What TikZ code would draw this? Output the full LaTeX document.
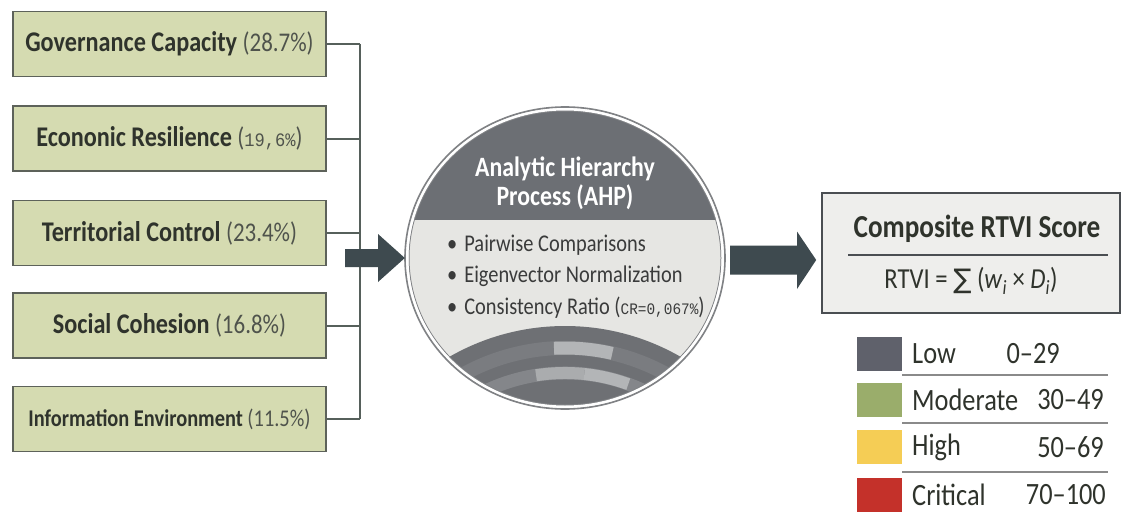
\documentclass[tikz,border=0pt]{standalone}
\usepackage{fontspec}
\setmainfont{Carlito}[FakeStretch=0.85]
\newfontfamily\monof{Liberation Mono}[FakeStretch=0.9]
\newfontfamily\symf{DejaVu Sans}
\usetikzlibrary{shapes.geometric,calc}
\definecolor{boxfill}{HTML}{D5DBB1}
\definecolor{boxline}{HTML}{5D625A}
\definecolor{txt}{HTML}{2F332C}
\definecolor{pct}{HTML}{4F534C}
\definecolor{conn}{HTML}{56605B}
\definecolor{arrowc}{HTML}{3E4A4F}
\definecolor{ahpdark}{HTML}{6C6F74}
\definecolor{ahplight}{HTML}{E6E6E3}
\definecolor{ahpbot}{HTML}{6E7074}
\definecolor{ahpband}{HTML}{7A7C80}
\definecolor{ahpbandb}{HTML}{84868A}
\definecolor{ahppatch}{HTML}{B3B5B7}
\definecolor{ahpring}{HTML}{808285}
\definecolor{bultxt}{HTML}{3A3B3B}
\definecolor{compfill}{HTML}{EEEEEC}
\definecolor{compline}{HTML}{4A4E52}
\definecolor{lowc}{HTML}{5F616B}
\definecolor{modc}{HTML}{9AAD6B}
\definecolor{highc}{HTML}{F5CD55}
\definecolor{critc}{HTML}{C4312A}
\definecolor{sepc}{HTML}{8A8A8A}
\newcommand\pc[1]{{\mdseries\fontsize{27}{29}\selectfont\color{pct}(#1)}}
\begin{document}
\begin{tikzpicture}[x=1pt,y=-1pt,
  dimbox/.style={draw=boxline, fill=boxfill, line width=1.8pt, minimum width=313pt,
    minimum height=65pt, inner sep=0pt, text=txt, font=\fontsize{28.5}{30}\selectfont\bfseries},
  connline/.style={draw=conn, line width=2pt},
  bigarrow/.style={fill=arrowc},
  bullet/.style={anchor=west, inner sep=0pt, text=bultxt, font=\fontsize{24}{26}\selectfont},
  swatch/.style={minimum width=45pt, minimum height=34pt, inner sep=0pt},
  leglabel/.style={anchor=west, inner sep=0pt, text=txt, font=\fontsize{31}{33}\selectfont},
  legrange/.style={anchor=east, inner sep=0pt, text=txt, font=\fontsize{31}{33}\selectfont},
  sepline/.style={draw=sepc, line width=1.2pt}]
\useasboundingbox (0,0) rectangle (1126,516);
\fill[white] (0,0) rectangle (1126,516);

% dimension boxes
\node[dimbox] (b1) at (169.5,44) {Governance Capacity \pc{28.7\%}};
\node[dimbox] (b2) at (169.5,138.5) {Econonic Resilience {\mdseries\fontsize{27}{29}\selectfont\color{pct}({\monof\fontsize{19}{20}\selectfont 19,6\%})}};
\node[dimbox] (b3) at (169.5,233) {Territorial Control \pc{23.4\%}};
\node[dimbox] (b4) at (169.5,325.5) {Social Cohesion \pc{16.8\%}};
\node[dimbox, font=\fontsize{24}{26}\selectfont\bfseries] (b5) at (169.5,419) {Information Environment {\mdseries\fontsize{24}{26}\selectfont\color{pct}(11.5\%)}};

% trunk
\coordinate (tk) at (360,0);
\foreach \b in {b1,b2,b3,b4,b5} \draw[connline] (\b.east) -- (\b.east -| tk);
\draw[connline] (b1.east -| tk) -- (b5.east -| tk);

% AHP circle
\node[ellipse, minimum width=320pt, minimum height=302pt, inner sep=0pt] (ahp) at (565,258) {};
\begin{scope}
  \clip (565,258) ellipse [x radius=160pt, y radius=151pt];
  \fill[ahplight] (400,100) rectangle (730,420);
  \fill[ahpdark] (400,100) rectangle (730,220);
  \fill[ahpbot] (565,558) circle (232pt);
  \draw[ahpband, line width=14pt] (565,558) ++(150:210pt) arc[start angle=150, end angle=30, radius=210pt];
  \draw[ahpbandb, line width=13pt] (565,558) ++(150:185pt) arc[start angle=150, end angle=30, radius=185pt];
  \draw[ahppatch, line width=13pt] (565,558) ++(93:210pt) arc[start angle=93, end angle=77, radius=210pt];
  \draw[ahppatch!80!ahpbandb, line width=12pt] (565,558) ++(99:185pt) arc[start angle=99, end angle=84, radius=185pt];
  \draw[ahppatch, line width=12pt] (565,558) ++(84:185pt) arc[start angle=84, end angle=70, radius=185pt];
\end{scope}
\draw[ahpring, line width=1pt] (565,258) ellipse [x radius=156pt, y radius=147pt];
\draw[white, line width=3pt] (565,258) ellipse [x radius=158pt, y radius=149pt];
\draw[ahpring, line width=1.6pt] (565,258) ellipse [x radius=160pt, y radius=151pt];

\node[align=center, text=white, font=\fontsize{28}{29}\selectfont\bfseries, inner sep=0pt] (ahpt) at (565,183) {Analytic Hierarchy\\Process (AHP)};
\node[bullet] (bl1) at (447,245) {\textbullet\hspace{7pt}Pairwise Comparisons};
\node[bullet] (bl2) at (447,276) {\textbullet\hspace{7pt}Eigenvector Normalization};
\node[bullet] (bl3) at (447,308) {\textbullet\hspace{7pt}Consistency Ratio ({\monof\fontsize{16}{18}\selectfont CR=0,067\%})};

% left block arrow (trunk -> AHP)
\coordinate (la) at (345,258);
\fill[bigarrow] ($(la)+(0,-9)$) -- ++(33,0) -- ++(0,-15) -- (ahp.west) -- ($(la)+(33,24)$) -- ++(0,-15) -- ($(la)+(0,9)$) -- cycle;

% composite box
\node[draw=compline, fill=compfill, line width=1.6pt, minimum width=298pt, minimum height=120pt, inner sep=0pt] (comp) at (971,253) {};
\node[text=txt, font=\fontsize{32}{34}\selectfont\bfseries, inner sep=0pt] (ctitle) at (977,229) {Composite RTVI Score};
\draw[draw=compline, line width=1.5pt] (848,255) -- (1108,255);
\node[text=txt, font=\fontsize{29}{31}\selectfont, inner sep=0pt] (cform) at (971,281) {RTVI = {\symf\fontsize{27}{29}\selectfont ∑} (\textit{w}\textsubscript{\textit{i}} × \textit{D}\textsubscript{\textit{i}})};

% right block arrow (AHP -> composite)
\coordinate (ra) at (730,260);
\fill[bigarrow] ($(ra)+(0,-14.5)$) -- ++(67,0) -- ++(0,-14) -- ($(comp.west)+(-5,7)$) -- ($(ra)+(67,29)$) -- ++(0,-14.5) -- ($(ra)+(0,14.5)$) -- cycle;

% legend
\node[swatch, fill=lowc] (s1) at (879.5,354) {};
\node[swatch, fill=modc] (s2) at (879.5,400) {};
\node[swatch, fill=highc] (s3) at (879.5,447) {};
\node[swatch, fill=critc] (s4) at (879.5,495) {};
\node[leglabel] (l1) at (912,354) {Low};
\node[leglabel] (l2) at (912,400) {Moderate};
\node[leglabel] (l3) at (912,447) {High};
\node[leglabel] (l4) at (912,495) {Critical};
\node[legrange] (r1) at (1060,354) {0–29};
\node[legrange] (r2) at (1104,400) {30–49};
\node[legrange] (r3) at (1104,447) {50–69};
\node[legrange] (r4) at (1106,495) {70–100};
\draw[sepline] (902,375) -- (1108,375);
\draw[sepline] (902,423) -- (1108,423);
\draw[sepline] (902,472) -- (1108,472);
\end{tikzpicture}
\end{document}
